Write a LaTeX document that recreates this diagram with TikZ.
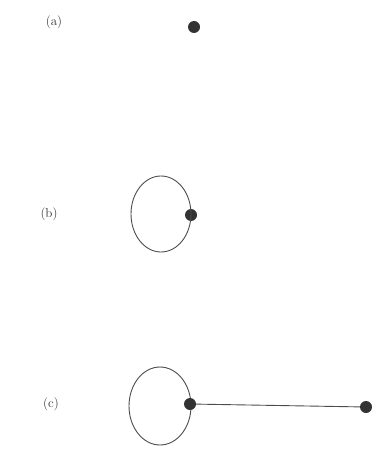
\documentclass[tikz,border=0pt]{standalone}
\begin{document}
\begin{tikzpicture}[x=1pt,y=-1pt,
  vtx/.style={circle,fill=black!80,inner sep=0pt,minimum size=12pt},
  lbl/.style={font=\fontsize{13}{15}\selectfont,text=black!80},
  edge/.style={draw=black!70,line width=0.9pt}]
\useasboundingbox (0,0) rectangle (386,449);
% (a)
\node[lbl] (la) at (54,22) {(a)};
\node[vtx] (va) at (194,27) {};
% (b)
\node[lbl] (lb) at (49,214) {(b)};
\node[vtx] (vb) at (191,215) {};
\draw[edge] (161,214) ellipse [x radius=30, y radius=38];
% (c)
\node[lbl] (lc) at (51,404) {(c)};
\draw[edge] (160,406) ellipse [x radius=31, y radius=39];
\node[vtx] (vc) at (190,404) {};
\node[vtx] (vd) at (366,407) {};
\draw[edge] (vc) -- (vd);
\end{tikzpicture}
\end{document}
